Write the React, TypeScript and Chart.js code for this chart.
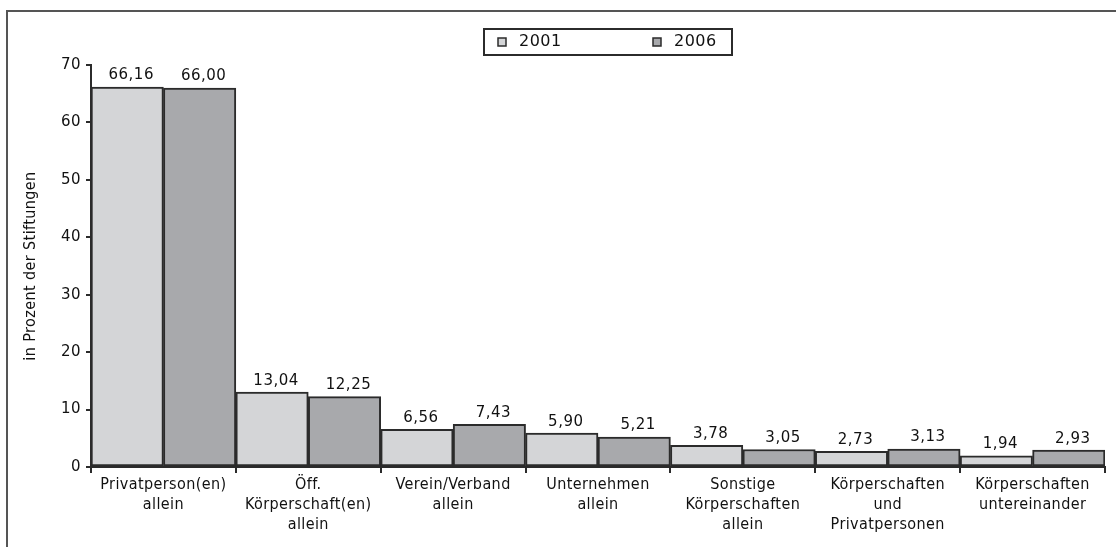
import React, { useEffect, useRef } from "react";
import { Chart, registerables } from "chart.js";

Chart.register(...registerables);

const categories: string[][] = [
  ["Privatperson(en)", "allein"],
  ["Öff.", "Körperschaft(en)", "allein"],
  ["Verein/Verband", "allein"],
  ["Unternehmen", "allein"],
  ["Sonstige", "Körperschaften", "allein"],
  ["Körperschaften", "und", "Privatpersonen"],
  ["Körperschaften", "untereinander"],
];
const series2001: number[] = [66.16, 13.04, 6.56, 5.9, 3.78, 2.73, 1.94];
const series2006: number[] = [66.0, 12.25, 7.43, 5.21, 3.05, 3.13, 2.93];
const seriesLabels: string[] = ["2001", "2006"];
const yTicks: number[] = [0, 10, 20, 30, 40, 50, 60, 70];
const yTitle = "in Prozent der Stiftungen";

const COLOR_2001 = "#d4d5d7";
const COLOR_2006 = "#a8a9ac";
const INK = "#2b2b2b";
const NUM_FONT = "DejaVu Sans";
const CAT_FONT = "DejaVu Sans Condensed";

const fmt = (v: number) => v.toFixed(2).replace(".", ",");

const spacing = {
  id: "spacing",
  beforeLayout(chart: any) {
    chart.ctx.letterSpacing = "0.4px";
  },
  beforeDraw(chart: any) {
    chart.ctx.letterSpacing = "0.4px";
  },
  afterDraw(chart: any) {
    chart.ctx.letterSpacing = "0px";
  },
};

const valueLabels = {
  id: "valueLabels",
  afterDatasetsDraw(chart: any) {
    const ctx = chart.ctx;
    ctx.save();
    ctx.letterSpacing = "0.5px";
    ctx.fillStyle = "#111";
    ctx.font = `15px "${NUM_FONT}"`;
    ctx.textAlign = "center";
    ctx.textBaseline = "bottom";
    chart.data.datasets.forEach((ds: any, i: number) => {
      const meta = chart.getDatasetMeta(i);
      meta.data.forEach((el: any, j: number) => {
        ctx.fillText(fmt(ds.data[j]), el.x + 4, el.y - 4);
      });
    });
    ctx.restore();
  },
};

const boxLegend = {
  id: "boxLegend",
  afterDraw(chart: any) {
    const ctx = chart.ctx;
    ctx.save();
    ctx.letterSpacing = "0.5px";
    ctx.strokeStyle = INK;
    ctx.lineWidth = 2;
    ctx.strokeRect(484, 29, 248, 26);
    const itemX = [498, 653];
    ctx.font = `16px "${NUM_FONT}"`;
    ctx.textBaseline = "middle";
    ctx.textAlign = "left";
    chart.data.datasets.forEach((ds: any, i: number) => {
      const x = itemX[i];
      ctx.fillStyle = ds.backgroundColor;
      ctx.fillRect(x, 38, 8, 8);
      ctx.lineWidth = 1.5;
      ctx.strokeStyle = INK;
      ctx.strokeRect(x, 38, 8, 8);
      ctx.fillStyle = "#111";
      ctx.fillText(ds.label, x + 21, 42);
    });
    ctx.restore();
  },
};

export default function App() {
  const ref = useRef<HTMLCanvasElement | null>(null);

  useEffect(() => {
    if (!ref.current) return;
    const chart = new Chart(ref.current, {
      type: "bar",
      data: {
        labels: categories,
        datasets: [
          {
            label: seriesLabels[0],
            data: series2001,
            backgroundColor: COLOR_2001,
            borderColor: INK,
            borderWidth: 2,
            borderSkipped: false,
          },
          {
            label: seriesLabels[1],
            data: series2006,
            backgroundColor: COLOR_2006,
            borderColor: INK,
            borderWidth: 2,
            borderSkipped: false,
          },
        ],
      },
      options: {
        responsive: false,
        animation: false,
        layout: { padding: { top: 65, left: 14, right: 11, bottom: 0 } },
        plugins: {
          legend: { display: false },
          tooltip: { enabled: false },
        },
        datasets: { bar: { categoryPercentage: 1, barPercentage: 1 } },
        scales: {
          x: {
            offset: true,
            grid: {
              offset: true,
              drawOnChartArea: false,
              drawTicks: true,
              tickLength: 6,
              color: INK,
              lineWidth: 2,
            },
            border: { display: true, color: INK, width: 2 },
            ticks: {
              color: "#111",
              padding: 2,
              maxRotation: 0,
              autoSkip: false,
              font: { family: CAT_FONT, size: 16, lineHeight: 1.25 },
            },
            afterFit(scale: any) {
              scale.height = 80;
            },
          },
          y: {
            min: 0,
            max: 70,
            afterBuildTicks(scale: any) {
              scale.ticks = yTicks.map((v) => ({ value: v }));
            },
            grid: {
              drawOnChartArea: false,
              drawTicks: true,
              tickLength: 5,
              color: INK,
              lineWidth: 2,
            },
            border: { display: true, color: INK, width: 2 },
            ticks: {
              color: "#111",
              padding: 5,
              font: { family: NUM_FONT, size: 15 },
            },
            title: {
              display: true,
              text: yTitle,
              color: "#111",
              font: { family: CAT_FONT, size: 16 },
              padding: { top: 7, bottom: 0 },
            },
            afterFit(scale: any) {
              scale.width = 77;
            },
          },
        },
      },
      plugins: [spacing, valueLabels, boxLegend],
    });
    return () => chart.destroy();
  }, []);

  return (
    <div
      style={{
        position: "fixed",
        left: 0,
        top: 0,
        width: 1116,
        height: 547,
        background: "#fff",
        overflow: "hidden",
      }}
    >
      <div
        style={{
          position: "absolute",
          left: 6,
          top: 10,
          width: 1200,
          height: 600,
          borderTop: "2px solid #555",
          borderLeft: "2px solid #555",
        }}
      />
      <canvas
        ref={ref}
        width={1116}
        height={547}
        style={{ position: "absolute", left: 0, top: 0 }}
      />
    </div>
  );
}
